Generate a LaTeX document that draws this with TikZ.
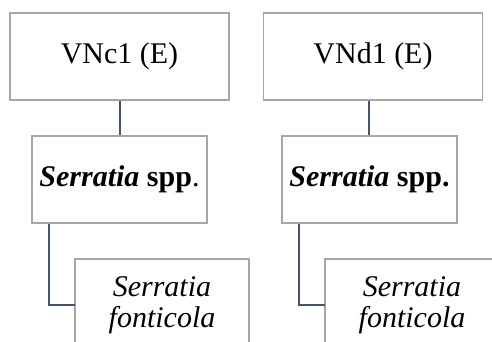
\documentclass[tikz,border=0pt]{standalone}
\usepackage{fontspec}
\setmainfont{Liberation Serif}
\newfontfamily\timesf{Liberation Serif}
\colorlet{boxgray}{black!35}
\definecolor{linkblue}{rgb}{0.267,0.329,0.416}
\begin{document}
\begin{tikzpicture}[x=1pt,y=-1pt,
  box/.style={draw=boxgray, line width=1.6pt, fill=white, inner sep=0pt,
    font=\timesf\fontsize{30}{31}\selectfont, align=center},
  leaf/.style={inner sep=0pt, font=\timesf\fontsize{30}{31}\selectfont, align=center,
    minimum width=174pt, minimum height=92pt},
  border/.style={draw=boxgray, line width=1.6pt},
  link/.style={draw=linkblue, line width=1.6pt}]
\useasboundingbox (0,0) rectangle (492,342);
\coordinate (floor) at (0,342);
% left tree
\node[box, minimum width=219pt, minimum height=87pt] (t1) at (119.5,56.5) {VNc1 (E)};
\node[box, minimum width=175pt, minimum height=87pt] (m1) at (119.5,179.5) {\textbf{\textit{Serratia} spp}.};
\node[leaf] (b1) at (162,305) {\textit{Serratia}\\\textit{fonticola}};
% right tree
\node[box, minimum width=219pt, minimum height=87pt] (t2) at (373,56.5) {VNd1 (E)};
\node[box, minimum width=175pt, minimum height=87pt] (m2) at (369.5,179.5) {\textbf{\textit{Serratia} spp.}};
\node[leaf] (b2) at (412,305) {\textit{Serratia}\\\textit{fonticola}};
% leaf borders (open at the bottom edge)
\draw[border] (b1.south west |- floor) -- (b1.north west) -- (b1.north east) -- (b1.south east |- floor);
\draw[border] (b2.south west |- floor) -- (b2.north west) -- (b2.north east) -- (b2.south east |- floor);
% connectors
\draw[link] ([xshift=0.5pt]t1.south) -- ([xshift=0.5pt]m1.north);
\draw[link] ([xshift=18pt]m1.south west) |- (b1.west);
\draw[link] ([xshift=-4pt]t2.south) -- ([xshift=-0.5pt]m2.north);
\draw[link] ([xshift=18pt]m2.south west) |- (b2.west);
\end{tikzpicture}
\end{document}
